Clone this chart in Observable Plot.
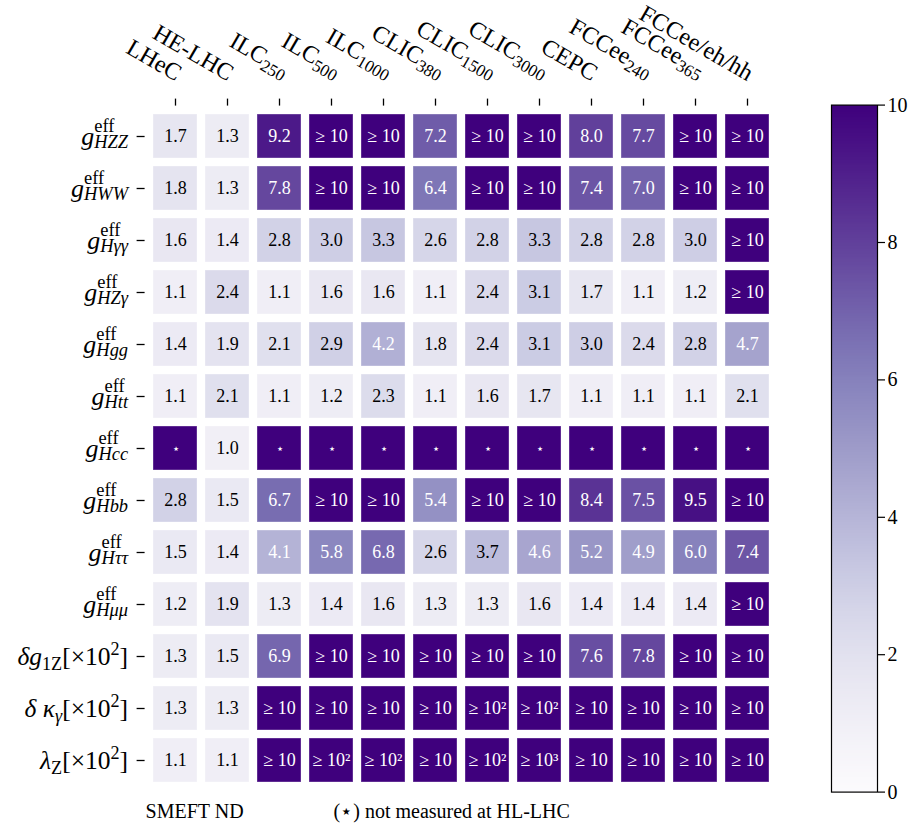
<!DOCTYPE html>
<html><head><meta charset="utf-8">
<script src="https://cdn.jsdelivr.net/npm/d3@7"></script>
<script src="https://cdn.jsdelivr.net/npm/@observablehq/plot@0.6"></script>
<style>
body{margin:0;background:#fff}
#chart{position:relative;width:908px;height:828px;overflow:hidden}
#chart svg{position:absolute;top:0}
</style>
</head><body><div id="chart"></div>
<script>
// ---------- data ----------
const colliders = ["LHeC","HE-LHC","ILC<sub>250</sub>","ILC<sub>500</sub>","ILC<sub>1000</sub>","CLIC<sub>380</sub>","CLIC<sub>1500</sub>","CLIC<sub>3000</sub>","CEPC","FCCee<sub>240</sub>","FCCee<sub>365</sub>","FCCee/eh/hh"];
const couplings = [
  "<i>g</i><sup>eff</sup><sub><i>HZZ</i></sub>",
  "<i>g</i><sup>eff</sup><sub><i>HWW</i></sub>",
  "<i>g</i><sup>eff</sup><sub><i>Hγγ</i></sub>",
  "<i>g</i><sup>eff</sup><sub><i>HZγ</i></sub>",
  "<i>g</i><sup>eff</sup><sub><i>Hgg</i></sub>",
  "<i>g</i><sup>eff</sup><sub><i>Htt</i></sub>",
  "<i>g</i><sup>eff</sup><sub><i>Hcc</i></sub>",
  "<i>g</i><sup>eff</sup><sub><i>Hbb</i></sub>",
  "<i>g</i><sup>eff</sup><sub><i>Hττ</i></sub>",
  "<i>g</i><sup>eff</sup><sub><i>Hμμ</i></sub>",
  "<i>δg</i><sub>1Z</sub>[×10<sup>2</sup>]",
  "<i>δ κ</i><sub><i>γ</i></sub>[×10<sup>2</sup>]",
  "<i>λ</i><sub>Z</sub>[×10<sup>2</sup>]"
];
const hzz = ["1.7","1.3","9.2","≥ 10","≥ 10","7.2","≥ 10","≥ 10","8.0","7.7","≥ 10","≥ 10"];
const hww = ["1.8","1.3","7.8","≥ 10","≥ 10","6.4","≥ 10","≥ 10","7.4","7.0","≥ 10","≥ 10"];
const hgaga = ["1.6","1.4","2.8","3.0","3.3","2.6","2.8","3.3","2.8","2.8","3.0","≥ 10"];
const hzga = ["1.1","2.4","1.1","1.6","1.6","1.1","2.4","3.1","1.7","1.1","1.2","≥ 10"];
const hgg = ["1.4","1.9","2.1","2.9","4.2","1.8","2.4","3.1","3.0","2.4","2.8","4.7"];
const htt = ["1.1","2.1","1.1","1.2","2.3","1.1","1.6","1.7","1.1","1.1","1.1","2.1"];
const hcc = ["⋆","1.0","⋆","⋆","⋆","⋆","⋆","⋆","⋆","⋆","⋆","⋆"];
const hbb = ["2.8","1.5","6.7","≥ 10","≥ 10","5.4","≥ 10","≥ 10","8.4","7.5","9.5","≥ 10"];
const htautau = ["1.5","1.4","4.1","5.8","6.8","2.6","3.7","4.6","5.2","4.9","6.0","7.4"];
const hmumu = ["1.2","1.9","1.3","1.4","1.6","1.3","1.3","1.6","1.4","1.4","1.4","≥ 10"];
const dg1z = ["1.3","1.5","6.9","≥ 10","≥ 10","≥ 10","≥ 10","≥ 10","7.6","7.8","≥ 10","≥ 10"];
const dkgamma = ["1.3","1.3","≥ 10","≥ 10","≥ 10","≥ 10","≥ 10²","≥ 10²","≥ 10","≥ 10","≥ 10","≥ 10"];
const lambdaz = ["1.1","1.1","≥ 10","≥ 10²","≥ 10²","≥ 10","≥ 10²","≥ 10³","≥ 10","≥ 10","≥ 10","≥ 10"];
const colorTicks = [0, 2, 4, 6, 8, 10];
const notes = ["SMEFT ND", "(⋆) not measured at HL-LHC"];

const rowsValues = [hzz, hww, hgaga, hzga, hgg, htt, hcc, hbb, htautau, hmumu, dg1z, dkgamma, lambdaz];
const toNum = s => (s === "⋆" || s.startsWith("≥")) ? 10 : +s;
const cells = [];
rowsValues.forEach((vals, r) => vals.forEach((s, c) => cells.push({row: couplings[r], col: colliders[c], label: s, v: toNum(s)})));

const FONT = "'Liberation Serif', 'DejaVu Serif', serif";

const main = Plot.plot({
  width: 800, height: 828,
  marginTop: 104.6, marginBottom: 36.4, marginLeft: 144.6, marginRight: 21.6,
  style: {fontFamily: FONT, background: "transparent", color: "black", overflow: "visible"},
  x: {domain: colliders, padding: 0},
  y: {domain: couplings, padding: 0},
  color: {type: "linear", scheme: "purples", domain: [0, 10], clamp: true},
  marks: [
    Plot.cell(cells, {x: "col", y: "row", fill: "v", inset: 4, stroke: "white", strokeOpacity: 0.35, strokeWidth: 1}),
    Plot.text(cells.filter(d => d.label !== "⋆" && d.v <= 4), {x: "col", y: "row", text: "label", fill: "black", fontSize: 18}),
    Plot.text(cells.filter(d => d.label !== "⋆" && d.v > 4), {x: "col", y: "row", text: "label", fill: "white", fontSize: 18}),
    Plot.text(cells.filter(d => d.label === "⋆"), {x: "col", y: "row", text: "label", fill: "white", fontSize: 13}),
    Plot.axisX({anchor: "top", tickSize: 7, tickFormat: () => "", strokeWidth: 1.3, label: null}),
    Plot.axisY({anchor: "left", tickSize: 8, tickFormat: () => "", strokeWidth: 1.3, label: null}),
    Plot.text(colliders.filter(d => !d.includes("<sub>")), {x: d => d, text: d => d, frameAnchor: "top", dy: -23.6, rotate: 30, textAnchor: "end", lineAnchor: "bottom", fontSize: 24}),
    Plot.text(colliders.filter(d => d.includes("<sub>")), {x: d => d, text: d => d, frameAnchor: "top", dx: 4, dy: -27.6, rotate: 30, textAnchor: "end", lineAnchor: "bottom", fontSize: 24}),
    Plot.text(couplings.slice(0, 10), {y: d => d, text: d => d, frameAnchor: "left", dx: -17, dy: 8, textAnchor: "end", lineAnchor: "bottom", fontSize: 26}),
    Plot.text(couplings.slice(10), {y: d => d, text: d => d, frameAnchor: "left", dx: -17, dy: 8.5, textAnchor: "end", lineAnchor: "bottom", fontSize: 25.5}),
    Plot.text([notes[0]], {frameAnchor: "bottom-left", dx: 0.5, dy: 25.4, textAnchor: "start", lineAnchor: "bottom", fontSize: 20}),
    Plot.text([notes[1]], {frameAnchor: "bottom-left", dx: 188.5, dy: 25.4, textAnchor: "start", lineAnchor: "bottom", fontSize: 20})
  ]
});

const cbar = Plot.plot({
  width: 108, height: 828,
  marginTop: 104.6, marginBottom: 36.4, marginLeft: 31, marginRight: 31,
  style: {fontFamily: FONT, background: "transparent", color: "black", overflow: "visible"},
  x: {domain: [0, 1], axis: null},
  y: {domain: [0, 10]},
  color: {type: "linear", scheme: "purples", domain: [0, 10]},
  marks: [
    Plot.raster({x1: 0, x2: 1, y1: 0, y2: 10, width: 1, height: 256, fill: (x, y) => y, imageRendering: "auto"}),
    Plot.frame({stroke: "black", strokeWidth: 1.2}),
    Plot.axisY(colorTicks, {anchor: "right", tickSize: 7, tickPadding: 3, fontSize: 20, strokeWidth: 1.2, label: null, tickFormat: d => String(d)})
  ]
});

const chart = document.getElementById("chart");
main.style.left = "0px";
cbar.style.left = "800px";
chart.appendChild(main);
chart.appendChild(cbar);

// ---------- rich text (sub/superscripts, italics) ----------
const NS = "http://www.w3.org/2000/svg";
function rich(t, html) {
  const base = parseFloat(getComputedStyle(t).fontSize) || 20;
  const tpl = document.createElement("template");
  tpl.innerHTML = html;
  const runs = [];
  (function walk(node, st) {
    for (const c of node.childNodes) {
      if (c.nodeType === 3) { if (c.nodeValue) runs.push({text: c.nodeValue, ...st}); }
      else {
        const tag = c.nodeName.toLowerCase();
        const ns = {...st};
        if (tag === "i") ns.it = true;
        if (tag === "sup") ns.role = "sup";
        if (tag === "sub") ns.role = "sub";
        walk(c, ns);
      }
    }
  })(tpl.content, {it: false, role: "main"});
  const stacked = runs.some(r => r.role === "sup") && runs.some(r => r.role === "sub") && runs[1] && runs[1].role === "sup";
  t.textContent = "";
  let cur = 0, prevRole = "main", supSpans = [];
  for (const run of runs) {
    const sp = document.createElementNS(NS, "tspan");
    sp.textContent = run.text;
    if (run.it) sp.setAttribute("font-style", "italic");
    sp.setAttribute("font-size", run.role === "main" ? base : base * 0.71);
    const target = run.role === "sup" ? (stacked ? -0.5 : -0.4) * base
                 : run.role === "sub" ? (stacked ? 0.14 : 0.2) * base : 0;
    const dy = target - cur;
    if (dy) sp.setAttribute("dy", dy.toFixed(2));
    cur = target;
    t.appendChild(sp);
    if (run.role === "sub" && prevRole === "sup") {
      const w = supSpans.reduce((a, s) => a + s.getComputedTextLength(), 0);
      sp.setAttribute("dx", (-w).toFixed(2));
    }
    if (run.role === "sup") supSpans.push(sp); else supSpans = [];
    prevRole = run.role;
  }
}
chart.querySelectorAll("text").forEach(t => {
  const s = t.textContent;
  if (s.includes("<")) rich(t, s);
});
</script>
</body></html>
